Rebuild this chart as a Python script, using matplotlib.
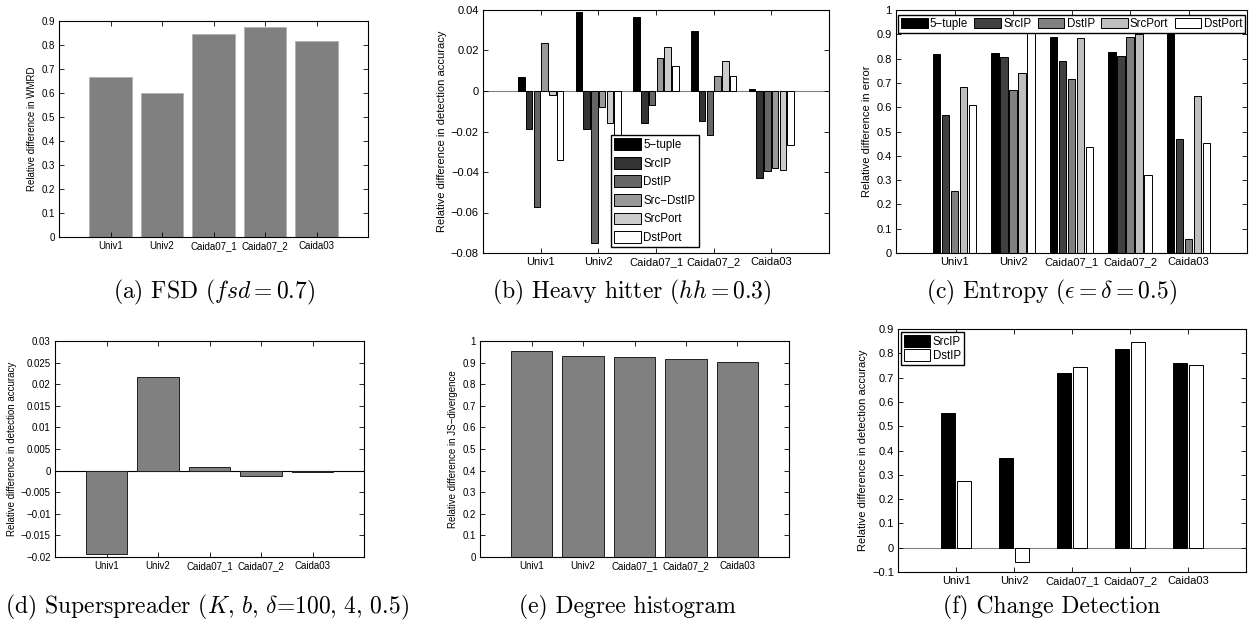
import numpy as np
import matplotlib
matplotlib.use('Agg')
import matplotlib.pyplot as plt
from matplotlib.ticker import FuncFormatter

plt.rcParams['font.family'] = ['Liberation Sans', 'DejaVu Sans']
plt.rcParams['mathtext.fontset'] = 'cm'
plt.rcParams['axes.linewidth'] = 0.8

W, H = 1252, 623
DATASETS = ['Univ1', 'Univ2', 'Caida07_1', 'Caida07_2', 'Caida03']

# ---- (a) FSD ----
fsd_wmrd = [0.667, 0.600, 0.846, 0.875, 0.818]
fsd_yticks = [0, 0.1, 0.2, 0.3, 0.4, 0.5, 0.6, 0.7, 0.8, 0.9]

# ---- (b) Heavy hitter ----
hh_labels = ['5\u2212tuple', 'SrcIP', 'DstIP', 'Src\u2212DstIP', 'SrcPort', 'DstPort']
hh_5tuple = [0.0069, 0.0389, 0.0363, 0.0295, 0.0012]
hh_srcip = [-0.0188, -0.0188, -0.0157, -0.0148, -0.0430]
hh_dstip = [-0.0574, -0.0752, -0.0071, -0.0216, -0.0397]
hh_srcdstip = [0.0237, -0.0079, 0.0165, 0.0073, -0.0379]
hh_srcport = [-0.0018, -0.0157, 0.0218, 0.0148, -0.0389]
hh_dstport = [-0.0340, -0.0500, 0.0124, 0.0076, -0.0267]
hh_yticks = [-0.08, -0.06, -0.04, -0.02, 0, 0.02, 0.04]

# ---- (c) Entropy ----
ent_labels = ['5\u2212tuple', 'SrcIP', 'DstIP', 'SrcPort', 'DstPort']
ent_5tuple = [0.819, 0.821, 0.890, 0.826, 0.950]
ent_srcip = [0.566, 0.806, 0.791, 0.812, 0.470]
ent_dstip = [0.255, 0.670, 0.718, 0.887, 0.059]
ent_srcport = [0.685, 0.740, 0.885, 0.900, 0.646]
ent_dstport = [0.611, 0.950, 0.435, 0.321, 0.451]
ent_yticks = [0, 0.1, 0.2, 0.3, 0.4, 0.5, 0.6, 0.7, 0.8, 0.9, 1]

# ---- (d) Superspreader ----
ss_acc = [-0.0194, 0.0216, 0.00085, -0.0013, -0.0004]
ss_yticks = [-0.02, -0.015, -0.01, -0.005, 0, 0.005, 0.01, 0.015, 0.02, 0.025, 0.03]

# ---- (e) Degree histogram ----
deg_js = [0.954, 0.932, 0.927, 0.917, 0.901]
deg_yticks = [0, 0.1, 0.2, 0.3, 0.4, 0.5, 0.6, 0.7, 0.8, 0.9, 1]

# ---- (f) Change detection ----
cd_labels = ['SrcIP', 'DstIP']
cd_srcip = [0.556, 0.370, 0.717, 0.819, 0.761]
cd_dstip = [0.274, -0.059, 0.742, 0.845, 0.752]
cd_yticks = [-0.1, 0, 0.1, 0.2, 0.3, 0.4, 0.5, 0.6, 0.7, 0.8, 0.9]

CAPTIONS = [r'(a) FSD ($fsd=0.7$)',
            r'(b) Heavy hitter ($hh=0.3$)',
            r'(c) Entropy ($\epsilon=\delta=0.5$)',
            r'(d) Superspreader ($K,\,b,\,\delta$=$100,\,4,\,0.5$)',
            '(e) Degree histogram',
            '(f) Change Detection']

fmt = FuncFormatter(lambda v, p: f'{v:g}'.replace('-', '\u2212'))


def make_ax(l, t, r, b):
    return fig.add_axes([l / W, 1 - b / H, (r - l) / W, (b - t) / H])


def style(ax, yticks, ylabel, fs):
    x = np.arange(1, len(DATASETS) + 1)
    ax.set_xlim(0, 6)
    ax.set_ylim(yticks[0], yticks[-1])
    ax.set_xticks(x)
    ax.set_xticklabels(DATASETS, fontsize=fs)
    ax.set_yticks(yticks)
    ax.yaxis.set_major_formatter(fmt)
    ax.tick_params(direction='in', top=True, right=True, length=3.5, width=0.6,
                   labelsize=fs, pad=3, colors='black')
    ax.set_ylabel(ylabel, fontsize=fs, labelpad=3)


def grouped(ax, series, colors, edge='black'):
    n = len(series)
    step = min(0.8, n / (n + 1.5)) / n
    x = np.arange(1, len(DATASETS) + 1)
    bars = []
    for i, (vals, c) in enumerate(zip(series, colors)):
        off = (i - (n - 1) / 2) * step
        bars.append(ax.bar(x + off, vals, width=step * 0.86, color=c,
                           edgecolor=edge, linewidth=0.7, zorder=2))
    return bars


fig = plt.figure(figsize=(W / 100, H / 100), dpi=100)
x5 = np.arange(1, len(DATASETS) + 1)

# (a)
ax = make_ax(59, 21, 368, 237)
ax.bar(x5, fsd_wmrd, width=0.83, color='#808080', edgecolor='#b0b0b0', linewidth=0.6)
style(ax, fsd_yticks, 'Relative difference in WMRD', 7)

# (b)
ax = make_ax(483, 10, 829, 253)
ax.axhline(0, color='#808080', lw=0.8, zorder=1)
bars = grouped(ax, [hh_5tuple, hh_srcip, hh_dstip, hh_srcdstip, hh_srcport, hh_dstport],
               ['#000000', '#333333', '#666666', '#999999', '#cccccc', '#ffffff'])
style(ax, hh_yticks, 'Relative difference in detection accuracy', 8)
ax.legend(bars, hh_labels, loc='lower left', bbox_to_anchor=(0.37, 0.023), fontsize=8.3,
          fancybox=False, framealpha=1, edgecolor='black', handlelength=2.3,
          handleheight=1.2, handletextpad=0.2, labelspacing=0.5, borderpad=0.3,
          borderaxespad=0)

# (c)
ax = make_ax(896, 10, 1247, 253)
bars = grouped(ax, [ent_5tuple, ent_srcip, ent_dstip, ent_srcport, ent_dstport],
               ['#000000', '#404040', '#808080', '#bfbfbf', '#ffffff'])
style(ax, ent_yticks, 'Relative difference in error', 8)
ax.legend(bars, ent_labels, loc='lower left', bbox_to_anchor=(0.006, 0.905, 0.988, 0.08),
          mode='expand', ncol=5, fontsize=8.3, fancybox=False, framealpha=1,
          edgecolor='black', handlelength=2.3, handleheight=1.0, handletextpad=0.2,
          columnspacing=0.2, borderpad=0.25, borderaxespad=0)

# (d)
ax = make_ax(55, 341, 364, 557)
ax.axhline(0, color='black', lw=0.8, zorder=1)
ax.bar(x5, ss_acc, width=0.8, color='#808080', edgecolor='#202020', linewidth=0.7, zorder=2)
style(ax, ss_yticks, 'Relative difference in detection accuracy', 7)

# (e)
ax = make_ax(480, 341, 789, 557)
ax.bar(x5, deg_js, width=0.8, color='#808080', edgecolor='#202020', linewidth=0.7, zorder=2)
style(ax, deg_yticks, 'Relative difference in JS\u2212divergence', 7)

# (f)
ax = make_ax(898, 329, 1246, 572)
ax.axhline(0, color='#808080', lw=0.8, zorder=1)
bars = grouped(ax, [cd_srcip, cd_dstip], ['#000000', '#ffffff'])
style(ax, cd_yticks, 'Relative difference in detection accuracy', 8)
ax.legend(bars, cd_labels, loc='upper left', fontsize=8.3, fancybox=False, framealpha=1,
          edgecolor='black', handlelength=2.3, handleheight=1.2, handletextpad=0.2,
          labelspacing=0.15, borderpad=0.25, borderaxespad=0.25)

# captions
cap_pos = [(214, 292), (632, 292), (1051, 292), (207, 607), (627, 607), (1052, 607)]
for (cx, cy), txt in zip(cap_pos, CAPTIONS):
    fig.text(cx / W, 1 - cy / H, txt, ha='center', va='center', fontsize=17,
             family='cmr10')

fig.savefig('out.png', dpi=100)
